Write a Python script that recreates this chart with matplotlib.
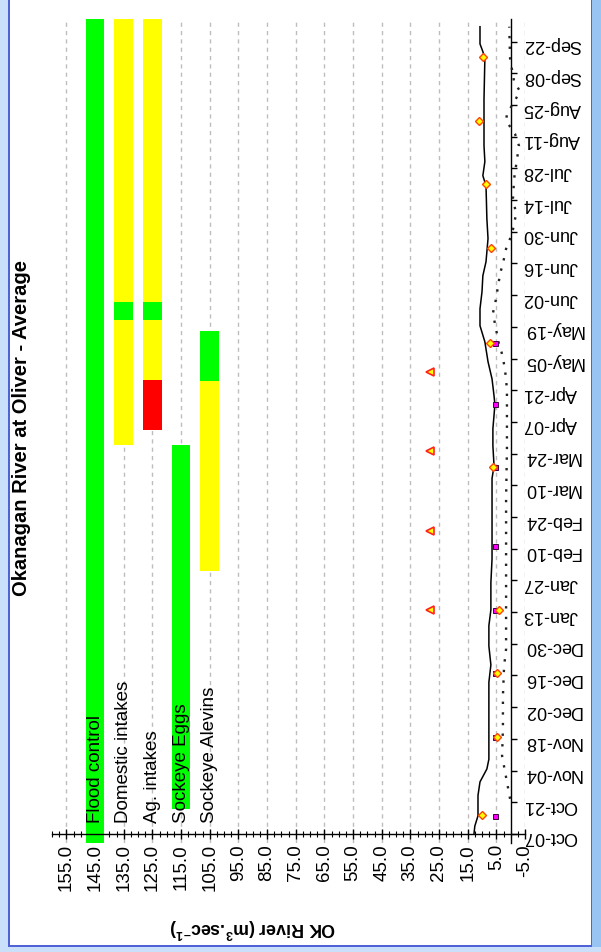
import numpy as np
import matplotlib
matplotlib.use("Agg")
import matplotlib.pyplot as plt
from matplotlib.patches import Rectangle
from matplotlib.ticker import MultipleLocator, FixedLocator

plt.rcParams['font.family'] = ['Liberation Sans', 'DejaVu Sans']
plt.rcParams['mathtext.default'] = 'regular'

# ---------------- data ----------------
title = "Okanagan River at Oliver - Average"
value_label = r"OK River (m$^3$.sec$^{-1}$)"

date_labels = ["Oct-07", "Oct-21", "Nov-04", "Nov-18", "Dec-02", "Dec-16", "Dec-30",
               "Jan-13", "Jan-27", "Feb-10", "Feb-24", "Mar-10", "Mar-24", "Apr-07",
               "Apr-21", "May-05", "May-19", "Jun-02", "Jun-16", "Jun-30", "Jul-14",
               "Jul-28", "Aug-11", "Aug-25", "Sep-08", "Sep-22"]
date_days = list(range(0, 351, 14))          # days after Oct-07

value_ticks = [155, 145, 135, 125, 115, 105, 95, 85, 75, 65, 55, 45, 35, 25, 15, 5, -5]

# timeline bars (criteria)
bar_names = ["Flood control", "Domestic intakes", "Ag. intakes", "Sockeye Eggs", "Sockeye Alevins"]
bar_levels = [145, 135, 125, 115, 105]
seg_row = [0, 1, 1, 1, 2, 2, 2, 2, 3, 4, 4]
seg_start = [-4, 172, 227, 235, 178.5, 200.6, 227, 235, 11, 116, 200]
seg_end = [360, 227, 235, 360, 200.6, 227, 235, 360, 172, 200, 222]
seg_color = ["#00FF00", "#FFFF00", "#00FF00", "#FFFF00", "#FF0000", "#FFFF00",
             "#00FF00", "#FFFF00", "#00FF00", "#FFFF00", "#00FF00"]

# average flow (solid line)
flow_days = [0, 3.5, 8, 17, 23, 28.7, 33, 51, 67, 74.7, 83, 92, 99, 111, 121.5, 139, 157,
             162.6, 171.5, 179, 189.6, 193.5, 201, 208.6, 217.4, 224.5, 232, 239.5, 246.6,
             252.8, 263, 271.8, 286.3, 290.8, 297, 304, 324.8, 342.5, 345.6, 349, 356.6]
flow_vals = [12.8, 12.5, 11.4, 11.4, 10.7, 8.3, 7.6, 7.6, 7.6, 6.9, 7.6, 7.6, 6.9, 6.9, 6.5,
             6.5, 6.5, 5.8, 6.2, 6.2, 5.5, 5.8, 6.5, 7.9, 9.0, 10.7, 10.7, 10.0, 9.7,
             8.6, 7.9, 8.3, 8.6, 9.7, 9.0, 9.3, 9.3, 9.0, 9.7, 10.7, 10.7]

# second series (dotted line)
dot_days = [15.5, 23, 34.5, 46.4, 61, 74, 81.7, 104, 126, 148, 170, 186.5, 196.6, 205.5,
            212, 216.5, 223, 230, 236.4, 242, 247.5, 252, 258.5, 263, 267, 274, 280.6,
            289.4, 298, 304, 309.3, 315, 318, 322.6, 328, 332.3, 342.5, 356.6]
dot_vals = [0.2, 1.3, 3.0, 2.7, 2.7, 2.3, 1.6, 1.6, 1.6, 1.6, 1.3, 1.3, 1.3, 2.0,
            3.0, 4.1, 5.1, 6.2, 5.1, 4.4, 3.7, 2.7, 1.6, 0.2, -0.8, -1.9, -0.8,
            -1.2, -2.2, -2.9, -1.5, 1.6, 1.3, -0.8, -3.3, -1.2, 0.2, 0.5]

# point observations
square_days = [8, 43, 71, 99, 127, 162, 190, 217]
square_vals = [5.3, 5.3, 5.3, 5.3, 5.3, 5.3, 5.3, 5.3]

diamond_days = [8.4, 43, 71, 99, 162, 217, 259, 287, 315, 343]
diamond_vals = [10.0, 4.8, 4.8, 4.1, 6.2, 7.2, 6.9, 8.6, 11.1, 9.7]

tri_days = [99, 134, 169, 204]
tri_vals = [28, 28, 28, 28]

# ---------------- figure ----------------
W, H = 601, 953
fig = plt.figure(figsize=(W / 100, H / 100), dpi=100)
fig.patch.set_facecolor("white")


def fx(px):
    return px / W


def fy(py):
    return 1 - py / H


def frame_rect(x0, y0, x1, y1, color):
    # pixel box (top-left origin) -> figure rectangle
    fig.add_artist(Rectangle((fx(x0), fy(y1)), fx(x1 - x0), (y1 - y0) / H,
                             transform=fig.transFigure, color=color, lw=0, zorder=-10))


light = "#CADFF9"
mid = "#98C4F4"
edge = "#4F63D6"
frame_rect(0, 0, 8, H, light)
frame_rect(8, 0, 9.5, 947.5, edge)
frame_rect(592, 0, W, H, mid)
frame_rect(590.5, 0, 592, 947.5, edge)
frame_rect(0, 947.5, W, H, light)
frame_rect(8, 946, 592, 947.5, edge)

ax_left, ax_right, ax_top, ax_bot = 52, 525, 20, 844
ax = fig.add_axes([fx(ax_left), fy(ax_bot), fx(ax_right - ax_left), (ax_bot - ax_top) / H])
ax.set_facecolor("none")
ax.set_xlim(160, -5)
ax.set_ylim(-4, 360)

# bars
for r, s, e, c in zip(seg_row, seg_start, seg_end, seg_color):
    ax.bar(bar_levels[r], e - s, bottom=s, width=6.5, color=c, lw=0, zorder=2)

for name, lev in zip(bar_names, bar_levels):
    ax.text(lev, 5.3, name, rotation=90, ha="center", va="bottom", fontsize=13.5, zorder=3)

# series
ax.plot(flow_vals, flow_days, color="black", lw=1.1, zorder=4)
ax.plot(dot_vals, dot_days, color="#222222", lw=1.7, linestyle=(0, (1, 3.5)), zorder=4)
ax.plot(square_vals, square_days, ls="none", marker="s", ms=3.6, mfc="#FF00FF", mec="#400040",
        mew=0.7, zorder=5)
ax.plot(diamond_vals, diamond_days, ls="none", marker="D", ms=3.8, mfc="#FFFF00", mec="#FF4400",
        mew=1.0, zorder=6)
ax.plot(tri_vals, tri_days, ls="none", marker="<", ms=5.5, mfc="#FFFF00", mec="#FF2020",
        mew=1.2, zorder=6)

# axes styling
for s in ["top", "left"]:
    ax.spines[s].set_visible(False)
ax.spines["right"].set_position(("data", 0))
ax.spines["bottom"].set_position(("data", 0))
ax.spines["right"].set_linewidth(1.0)
ax.spines["bottom"].set_linewidth(1.0)
ax.spines["bottom"].set_bounds(160, -5)

ax.yaxis.tick_right()
ax.yaxis.set_major_locator(FixedLocator(date_days))
ax.set_yticklabels(date_labels, rotation=180, fontsize=13)
ax.tick_params(axis="y", direction="out", length=4, pad=5, width=1)

ax.xaxis.set_major_locator(FixedLocator(value_ticks))
ax.set_xticklabels([f"{v:.1f}" for v in value_ticks], rotation=90, fontsize=13.5)
ax.xaxis.set_minor_locator(MultipleLocator(2.5))
ax.tick_params(axis="x", which="major", direction="inout", length=7, pad=3, width=1)
ax.tick_params(axis="x", which="minor", direction="inout", length=4, width=0.8)

ax.grid(axis="x", which="major", color="#BDBDBD", linestyle=(0, (3, 3)), lw=1.0, zorder=0)
ax.set_axisbelow(True)

fig.text(fx(22), fy(428), title, rotation=90, ha="center", va="center", fontsize=14.5,
         fontweight="bold")
fig.text(fx(253), fy(928), value_label, rotation=180, ha="center", va="center", fontsize=12.8,
         fontweight="bold")

fig.savefig("out.png", dpi=100)
